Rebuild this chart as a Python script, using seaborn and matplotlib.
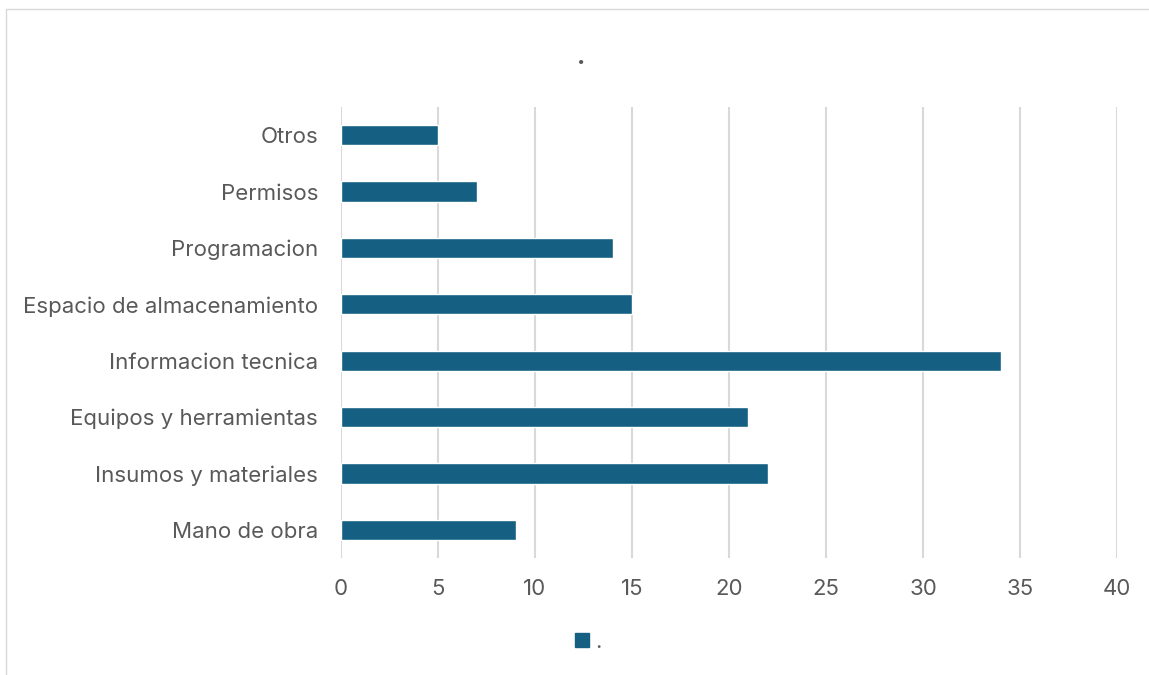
import matplotlib
matplotlib.use("Agg")
import matplotlib.pyplot as plt
import seaborn as sns
import pandas as pd
from matplotlib.patches import Rectangle
from matplotlib.lines import Line2D

categories = ["Otros", "Permisos", "Programacion", "Espacio de almacenamiento",
              "Informacion tecnica", "Equipos y herramientas",
              "Insumos y materiales", "Mano de obra"]
values = [5, 7, 14, 15, 34, 21, 22, 9]
x_ticks = [0, 5, 10, 15, 20, 25, 30, 35, 40]

bar_color = "#156082"
text_color = "#595959"
grid_color = "#d9d9d9"

df = pd.DataFrame({"cat": categories, "val": values})

sns.set_style("white")
plt.rcParams["font.family"] = ["Inter", "DejaVu Sans"]

fig = plt.figure(figsize=(11.49, 6.75), dpi=100)
ax = fig.add_axes([341 / 1149, 1 - 558 / 675, (1117 - 341) / 1149, (558 - 107) / 675])

sns.barplot(data=df, x="val", y="cat", orient="h", color=bar_color,
            width=0.36, saturation=1, ax=ax, zorder=3)

ax.set_xlim(0, 40)
ax.set_xticks(x_ticks)
ax.set_xlabel("")
ax.set_ylabel("")
ax.grid(axis="x", color=grid_color, linewidth=1.5, zorder=0)
ax.grid(axis="y", visible=False)
for s in ax.spines.values():
    s.set_visible(False)
ax.tick_params(axis="both", length=0, labelsize=16, colors=text_color)
ax.tick_params(axis="y", pad=16.5)
ax.tick_params(axis="x", pad=15)

# outer chart border
fig.patches.append(Rectangle((6 / 1149, -0.1), 1.2, 1 - 9 / 675 + 0.1,
                             transform=fig.transFigure, fill=False,
                             edgecolor=grid_color, linewidth=1))

fig.text(581 / 1149, 1 - 58 / 675, ".", ha="center", va="center",
         fontsize=18, fontweight="bold", color=text_color)

handle = Line2D([], [], marker="s", linestyle="", markersize=10.5,
                color=bar_color)
fig.legend([handle], ["."], loc="center", bbox_to_anchor=(586 / 1149, 1 - 642 / 675),
           frameon=False, fontsize=16, labelcolor=text_color,
           handletextpad=0.1, handlelength=1)

fig.savefig("out.png", dpi=100)
